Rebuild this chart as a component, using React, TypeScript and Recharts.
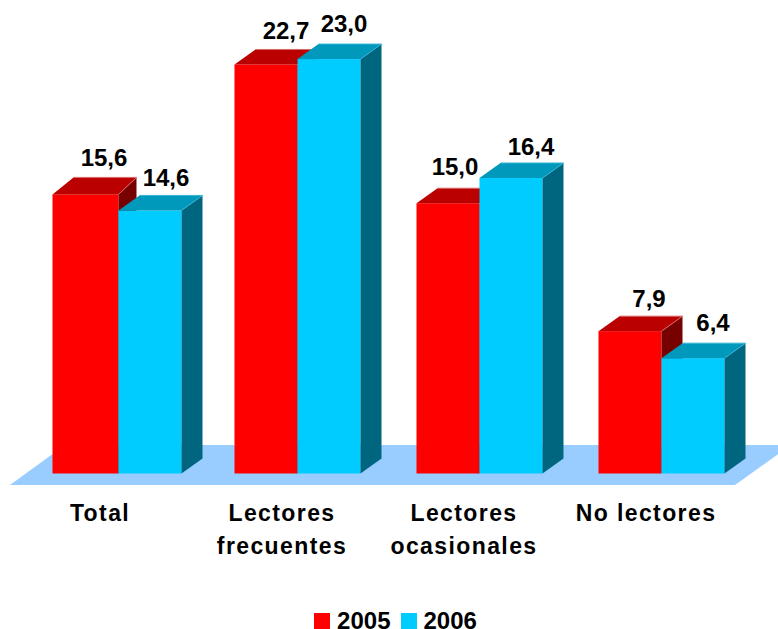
import { Bar, BarChart, LabelList, Legend, XAxis, YAxis } from "recharts";

const categories = ["Total", "Lectores frecuentes", "Lectores ocasionales", "No lectores"];
const values2005 = [15.6, 22.7, 15.0, 7.9];
const values2006 = [14.6, 23.0, 16.4, 6.4];

const rows = categories.map((name, i) => ({
  name,
  y2005: values2005[i],
  y2006: values2006[i]
}));

// the labels were hand placed in the original, so each one has its own nudge from the bar top
const nudges2005 = [[20, -26], [20, -25], [7, -28], [19, -24]];
const nudges2006 = [[19, -24], [15, -27], [20, -23], [20, -27]];

// first group is drawn slightly off in the original: [shift x, grow width, drop front top]
const tweaks2005 = [[0, 3, 2], [0, 0, 0], [0, 0, 0], [0, 0, 0]];
const tweaks2006 = [[3, 0, 0], [0, 0, 0], [0, 0, 0], [0, 0, 0]];

const font = "'Liberation Sans', Arial, sans-serif";
const depthX = 21;
const depthY = 15;

function Box3D(props: any) {
  const { width, height, index, tweaks, front, top, side, edge } = props;
  const [shift, grow, drop] = tweaks[index];
  const x = props.x + shift;
  const r = x + width + grow;
  const y = props.y;
  const b = y + height;
  const yf = y + drop;
  return (
    <g>
      <rect x={x} y={yf} width={r - x} height={b - yf} fill={front} />
      <polygon
        points={`${x},${yf} ${x + depthX},${y - depthY} ${r + depthX - grow},${y - depthY} ${r},${yf}`}
        fill={top}
      />
      <polygon
        points={`${r},${yf} ${r + depthX - grow},${y - depthY} ${r + depthX - grow},${b - depthY} ${r},${b}`}
        fill={side}
      />
      <polyline
        points={`${x + depthX},${y - depthY} ${r + depthX - grow},${y - depthY} ${r},${yf}`}
        fill="none"
        stroke={edge}
        strokeWidth={1}
      />
    </g>
  );
}

function ValueLabel(props: any) {
  const { x, y, width, value, index, nudges } = props;
  return (
    <text
      x={x + width / 2 + nudges[index][0]}
      y={y + nudges[index][1]}
      textAnchor="middle"
      fontFamily={font}
      fontWeight="bold"
      fontSize={24}
      fill="#000"
    >
      {Number(value).toFixed(1).replace(".", ",")}
    </text>
  );
}

function CategoryTick(props: any) {
  const { x, payload } = props;
  const words = payload.value === "No lectores" ? [payload.value] : payload.value.split(" ");
  return (
    <text
      textAnchor="middle"
      fontFamily={font}
      fontWeight="bold"
      fontSize={23}
      letterSpacing={1.4}
      fill="#000"
    >
      {words.map((word: string, i: number) => (
        <tspan key={word} x={x - 15} y={521 + i * 33}>
          {word}
        </tspan>
      ))}
    </text>
  );
}

function YearLegend({ payload }: any) {
  return (
    <div
      style={{
        display: "flex",
        justifyContent: "center",
        alignItems: "center",
        gap: 10,
        height: 30,
        paddingLeft: 15,
        transform: "translateY(7px)"
      }}
    >
      {(payload || []).map((entry: any) => (
        <span
          key={entry.value}
          style={{
            display: "flex",
            alignItems: "center",
            fontFamily: font,
            fontWeight: "bold",
            fontSize: 24,
            lineHeight: "16px",
            color: "#000"
          }}
        >
          <span
            style={{
              width: 16,
              height: 16,
              background: entry.color,
              marginRight: 7
            }}
          />
          {entry.value}
        </span>
      ))}
    </div>
  );
}

export default function App() {
  return (
    <div style={{ position: "absolute", left: 0, top: 0, width: 778, height: 629, overflow: "hidden" }}>
      <BarChart
        width={778}
        height={629}
        data={rows}
        margin={{ top: 5, right: 26, bottom: 0, left: 24 }}
        barGap={0}
        barCategoryGap={28.5}
      >
        <polygon points="10,485 735,485 791,445 65,445" fill="#99ccff" />
        <XAxis
          dataKey="name"
          axisLine={false}
          tickLine={false}
          height={125.5}
          interval={0}
          tick={<CategoryTick />}
        />
        <YAxis hide domain={[0, 26]} />
        <Legend verticalAlign="bottom" height={30} content={<YearLegend />} />
        <Bar
          dataKey="y2005"
          name="2005"
          fill="#ff0000"
          isAnimationActive={false}
          shape={<Box3D tweaks={tweaks2005} front="#ff0000" top="#bb0000" side="#770000" edge="#d86a6a" />}
        >
          <LabelList dataKey="y2005" content={<ValueLabel nudges={nudges2005} />} />
        </Bar>
        <Bar
          dataKey="y2006"
          name="2006"
          fill="#00ccff"
          isAnimationActive={false}
          shape={<Box3D tweaks={tweaks2006} front="#00ccff" top="#0099bb" side="#006680" edge="#33b5d5" />}
        >
          <LabelList dataKey="y2006" content={<ValueLabel nudges={nudges2006} />} />
        </Bar>
      </BarChart>
    </div>
  );
}
